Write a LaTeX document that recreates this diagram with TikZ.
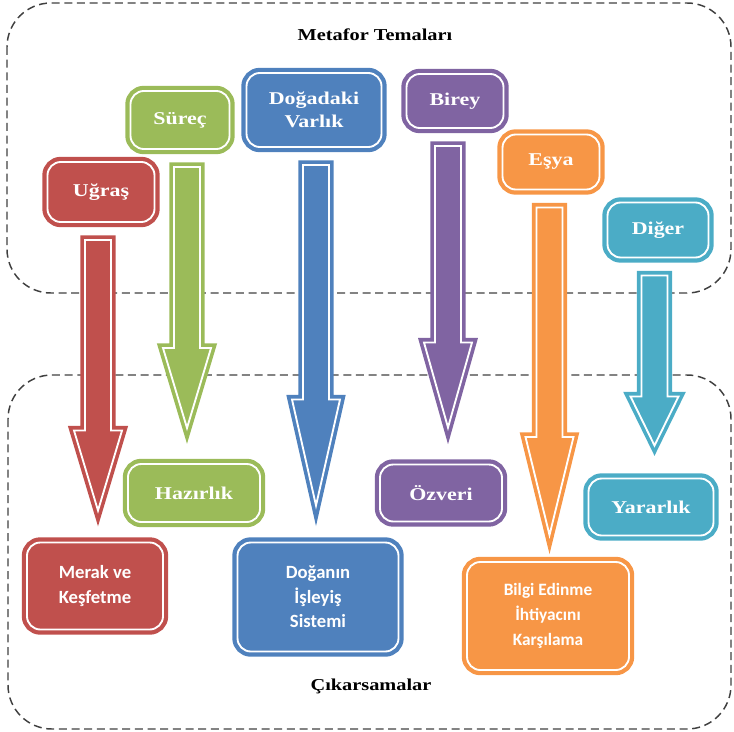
\documentclass[tikz,border=0pt]{standalone}
\usepackage{fontspec}
\setmainfont{Liberation Serif}
\newfontfamily\serifwide[FakeStretch=1.22]{Liberation Serif}
\newfontfamily\sanslabel{Carlito}
\usetikzlibrary{calc,positioning}

\definecolor{tred}{HTML}{C0504D}
\definecolor{tgreen}{HTML}{9BBB59}
\definecolor{tblue}{HTML}{4F81BD}
\definecolor{tpurple}{HTML}{8064A2}
\definecolor{torange}{HTML}{F79646}
\definecolor{tteal}{HTML}{4BACC6}

% block arrow: colour, from, to, head length, tip gap
\newcommand{\themearrow}[5]{%
  \coordinate (mid) at ($(#2.south)!0.5!(#3.north)$);
  \coordinate (s) at ($(mid |- #2.south)+(0,18)$);
  \coordinate (t) at ($(mid |- #3.north)+(0,-#5)$);
  \draw[bigarrow=#1] ($(s)+(-13,0)$) -- ($(s)+(13,0)$) -- ($(t)+(13,-#4)$)
    -- ($(t)+(24,-#4)$) -- (t) -- ($(t)+(-24,-#4)$) -- ($(t)+(-13,-#4)$) -- cycle;
}

\begin{document}
\begin{tikzpicture}[
    x=0.75pt, y=-0.75pt,
    frame/.style={draw=black!75, line width=1.1pt, dash pattern=on 6pt off 3.5pt, rounded corners=33pt},
    box/.style={draw=#1, fill=#1, double=white, line width=3.2pt, double distance=1.4pt, rounded corners=10pt,
        text=white, align=center, inner sep=0pt, outer sep=0pt},
    boxdim/.style 2 args={minimum width=#1*0.75pt, minimum height=#2*0.75pt},
    theme/.style={box=#1, font=\serifwide\bfseries\fontsize{13.5}{17.5}\selectfont},
    result/.style={box=#1, font=\sanslabel\bfseries\fontsize{14}{18.5}\selectfont},
    heading/.style={font=\serifwide\bfseries\fontsize{12.5}{15}\selectfont},
    bigarrow/.style={draw=#1, fill=#1, double=white, line width=2.7pt, double distance=1.4pt, line join=miter}
]
    \useasboundingbox (0,0) rectangle (734,731);

    % dashed frames
    \draw[frame] (7,3) rectangle (731,293);
    \draw[frame] (8,375) rectangle (731,729);

    \node[heading] (temalar) at (375,35) {Metafor Temaları};
    \node[heading] (cikarsama) at (371,686) {Çıkarsamalar};

    % metaphor themes
    \node[theme=tred, boxdim={107}{60}] (ugras) at (101,192) {Uğraş};
    \node[theme=tgreen, boxdim={99}{58}] (surec) at (180,120) {Süreç};
    \node[theme=tblue, boxdim={135}{74}] (dogadaki) at (314,110) {Doğadaki\\Varlık};
    \node[theme=tpurple, boxdim={97}{54}] (birey) at (455,101) {Birey};
    \node[theme=torange, boxdim={97}{55}] (esya) at (551,162) {Eşya};
    \node[theme=tteal, boxdim={101}{55}] (diger) at (658,230) {Diğer};

    % inferences
    \node[result=tred, boxdim={136}{87}] (merak) at (95,586) {Merak ve\\Keşfetme};
    \node[theme=tgreen, boxdim={132}{58}] (hazirlik) at (194,493) {Hazırlık};
    \node[result=tblue, boxdim={161}{109}] (doganin) at (318,597) {Doğanın\\İşleyiş\\Sistemi};
    \node[theme=tpurple, boxdim={122}{57}] (ozveri) at (441,493) {Özveri};
    \node[result=torange, boxdim={162}{108}, font=\sanslabel\bfseries\fontsize{13}{18.5}\selectfont] (bilgi) at (548,616) {Bilgi Edinme\\İhtiyacını\\Karşılama};
    \node[theme=tteal, boxdim={125}{57}] (yararlik) at (651,507) {Yararlık};

    \themearrow{tred}{ugras}{merak}{80}{32}
    \themearrow{tgreen}{surec}{hazirlik}{80}{36}
    \themearrow{tblue}{dogadaki}{doganin}{106}{37}
    \themearrow{tpurple}{birey}{ozveri}{85}{37}
    \themearrow{torange}{esya}{bilgi}{98}{27}
    \themearrow{tteal}{diger}{yararlik}{49}{33}
\end{tikzpicture}
\end{document}
